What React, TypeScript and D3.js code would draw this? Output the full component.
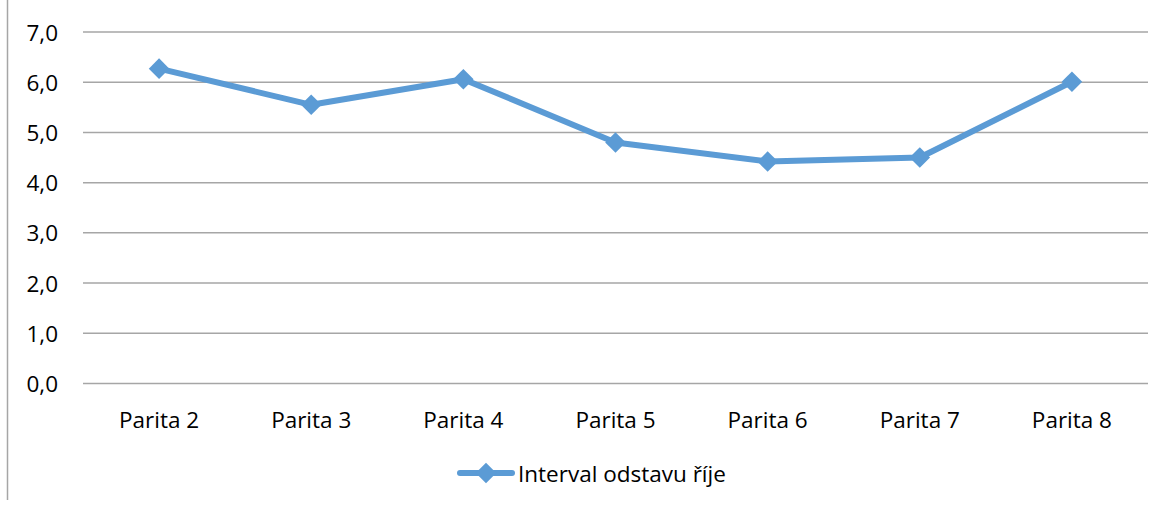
import * as d3 from "d3";

const categories = ["Parita 2", "Parita 3", "Parita 4", "Parita 5", "Parita 6", "Parita 7", "Parita 8"];
const values = [6.27, 5.55, 6.06, 4.8, 4.42, 4.5, 6.01];
const yTicks = [0, 1, 2, 3, 4, 5, 6, 7];
const seriesName = "Interval odstavu říje";

const W = 1162;
const H = 507;
const plot = { left: 83, right: 1148, top: 32, bottom: 383.5 };
const blue = "#5B9BD5";
const font = "'Open Sans', 'Noto Sans', sans-serif";
const fs = 22.5;

export default function App() {
  const x = d3.scaleBand().domain(categories).range([plot.left, plot.right]);
  const y = d3.scaleLinear().domain([0, 7]).range([plot.bottom, plot.top]);
  const cx = (c: string) => (x(c) ?? 0) + x.bandwidth() / 2;

  const line = d3
    .line<number>()
    .x((_, i) => cx(categories[i]))
    .y((d) => y(d));

  const diamond = d3.symbol().type(d3.symbolDiamond2).size(270)();

  return (
    <svg
      width={W}
      height={H}
      style={{ position: "absolute", left: 0, top: 0, background: "#fff" }}
      fontFamily={font}
    >
      <line x1={7.5} x2={7.5} y1={0} y2={500} stroke="#A6A6A6" strokeWidth={1.5} />

      {yTicks.map((t) => (
        <g key={t}>
          <line x1={plot.left} x2={plot.right} y1={y(t)} y2={y(t)} stroke="#A6A6A6" strokeWidth={1.5} />
          <text x={58} y={y(t)} textAnchor="end" dominantBaseline="central" fontSize={fs} fill="#000">
            {d3.format(".1f")(t).replace(".", ",")}
          </text>
        </g>
      ))}

      {categories.map((c) => (
        <text key={c} x={cx(c)} y={419} textAnchor="middle" dominantBaseline="central" fontSize={fs} fill="#000">
          {c}
        </text>
      ))}

      <path d={line(values) ?? ""} fill="none" stroke={blue} strokeWidth={6} strokeLinejoin="round" />
      {values.map((v, i) => (
        <path key={i} d={diamond ?? ""} transform={`translate(${cx(categories[i])},${y(v)})`} fill={blue} />
      ))}

      <g>
        <line x1={460} x2={512} y1={473} y2={473} stroke={blue} strokeWidth={6} strokeLinecap="round" />
        <path d={diamond ?? ""} transform="translate(486,473)" fill={blue} />
        <text x={518} y={473} dominantBaseline="central" fontSize={fs} fill="#000">
          {seriesName}
        </text>
      </g>
    </svg>
  );
}
